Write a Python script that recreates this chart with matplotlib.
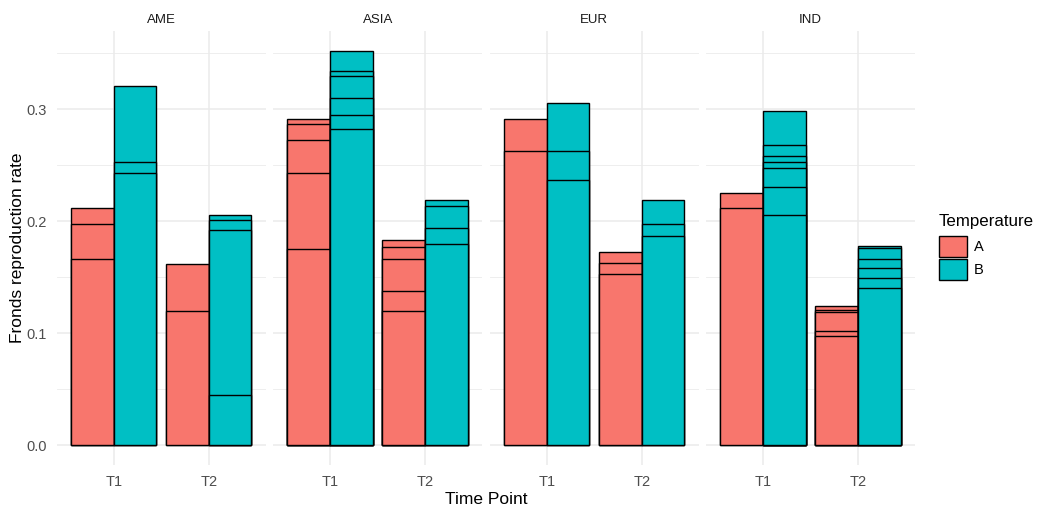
import matplotlib
matplotlib.use("Agg")
import matplotlib.pyplot as plt
from matplotlib.patches import Patch

plt.rcParams['font.family'] = ['Liberation Sans', 'DejaVu Sans']

regions = ["AME", "ASIA", "EUR", "IND"]
time_points = ["T1", "T2"]
temperatures = ["A", "B"]
colors = {"A": "#F8766D", "B": "#00BFC4"}

# per-replicate reproduction rates, one list per region / time point / temperature
ame_t1_a = [0.212, 0.198, 0.166]
ame_t1_b = [0.321, 0.253, 0.243]
ame_t2_a = [0.162, 0.120]
ame_t2_b = [0.206, 0.201, 0.192, 0.045]

asia_t1_a = [0.291, 0.287, 0.273, 0.243, 0.175]
asia_t1_b = [0.352, 0.334, 0.330, 0.310, 0.295, 0.282]
asia_t2_a = [0.183, 0.177, 0.166, 0.138, 0.120]
asia_t2_b = [0.219, 0.214, 0.194, 0.180]

eur_t1_a = [0.291, 0.263]
eur_t1_b = [0.306, 0.263, 0.237]
eur_t2_a = [0.173, 0.163, 0.153]
eur_t2_b = [0.219, 0.198, 0.187]

ind_t1_a = [0.225, 0.212]
ind_t1_b = [0.298, 0.268, 0.258, 0.253, 0.248, 0.231, 0.206]
ind_t2_a = [0.124, 0.121, 0.119, 0.102, 0.098]
ind_t2_b = [0.178, 0.176, 0.166, 0.158, 0.149, 0.140]

rates = {
    "AME": {("T1", "A"): ame_t1_a, ("T1", "B"): ame_t1_b,
            ("T2", "A"): ame_t2_a, ("T2", "B"): ame_t2_b},
    "ASIA": {("T1", "A"): asia_t1_a, ("T1", "B"): asia_t1_b,
             ("T2", "A"): asia_t2_a, ("T2", "B"): asia_t2_b},
    "EUR": {("T1", "A"): eur_t1_a, ("T1", "B"): eur_t1_b,
            ("T2", "A"): eur_t2_a, ("T2", "B"): eur_t2_b},
    "IND": {("T1", "A"): ind_t1_a, ("T1", "B"): ind_t1_b,
            ("T2", "A"): ind_t2_a, ("T2", "B"): ind_t2_b},
}

W, H = 1040, 513
fig = plt.figure(figsize=(W / 100, H / 100), dpi=100)

ymax = max(max(v) for r in rates.values() for v in r.values())
ylim = (-0.05 * ymax, 1.05 * ymax)

panel_left = 56.7
panel_w = 209.0
panel_step = 216.5
panel_top = 31.3
panel_bot = 465.0

bar_w = 0.45
grid_col = "#EBEBEB"

for i, reg in enumerate(regions):
    x0 = panel_left + i * panel_step
    ax = fig.add_axes([x0 / W, 1 - panel_bot / H, panel_w / W, (panel_bot - panel_top) / H])
    ax.set_xlim(-0.6, 1.6)
    ax.set_ylim(*ylim)
    for s in ax.spines.values():
        s.set_visible(False)

    ax.set_yticks([0.0, 0.1, 0.2, 0.3])
    ax.set_yticks([0.05, 0.15, 0.25, 0.35], minor=True)
    ax.set_xticks(range(len(time_points)))
    ax.set_xticklabels(time_points)
    ax.grid(True, which="major", color=grid_col, linewidth=1.1)
    ax.grid(True, which="minor", axis="y", color=grid_col, linewidth=0.6)
    ax.set_axisbelow(True)
    ax.tick_params(which="both", length=0)
    ax.tick_params(axis="x", labelsize=10.5, labelcolor="#4D4D4D", pad=7)
    ax.tick_params(axis="y", labelsize=10.5, labelcolor="#4D4D4D", pad=7)
    if i == 0:
        ax.set_yticklabels(["0.0", "0.1", "0.2", "0.3"])
    else:
        ax.set_yticklabels([])

    # overlapping replicate bars: tallest first so every top edge stays visible
    for j, tp in enumerate(time_points):
        for k, temp in enumerate(temperatures):
            xpos = j + (k - 0.5) * bar_w
            vals = sorted(rates[reg][(tp, temp)], reverse=True)
            ax.bar([xpos] * len(vals), vals, width=bar_w, color=colors[temp],
                   edgecolor="black", linewidth=1.0, zorder=3)

    ax.set_title(reg, fontsize=9.5, color="#1A1A1A", pad=6)

fig.text(18 / W, 1 - ((panel_top + panel_bot) / 2) / H, "Fronds reproduction rate",
         rotation=90, ha="center", va="center", fontsize=12.5)
fig.text((panel_left + 3 * panel_step + panel_w + panel_left) / 2 / W, 1 - 500 / H, "Time Point",
         ha="center", va="center", fontsize=12.5)

handles = [Patch(facecolor=colors[t], edgecolor="black", linewidth=1.0) for t in temperatures]
leg = fig.legend(handles, temperatures, title="Temperature", loc="upper left",
                 bbox_to_anchor=(933 / W, 1 - 208 / H), frameon=False,
                 fontsize=10.5, title_fontsize=12.2, handlelength=1.9, handleheight=1.9,
                 labelspacing=0.08, handletextpad=0.5, alignment="left", borderaxespad=0)
leg._legend_box.sep = 5

fig.savefig("out.png", dpi=100)
